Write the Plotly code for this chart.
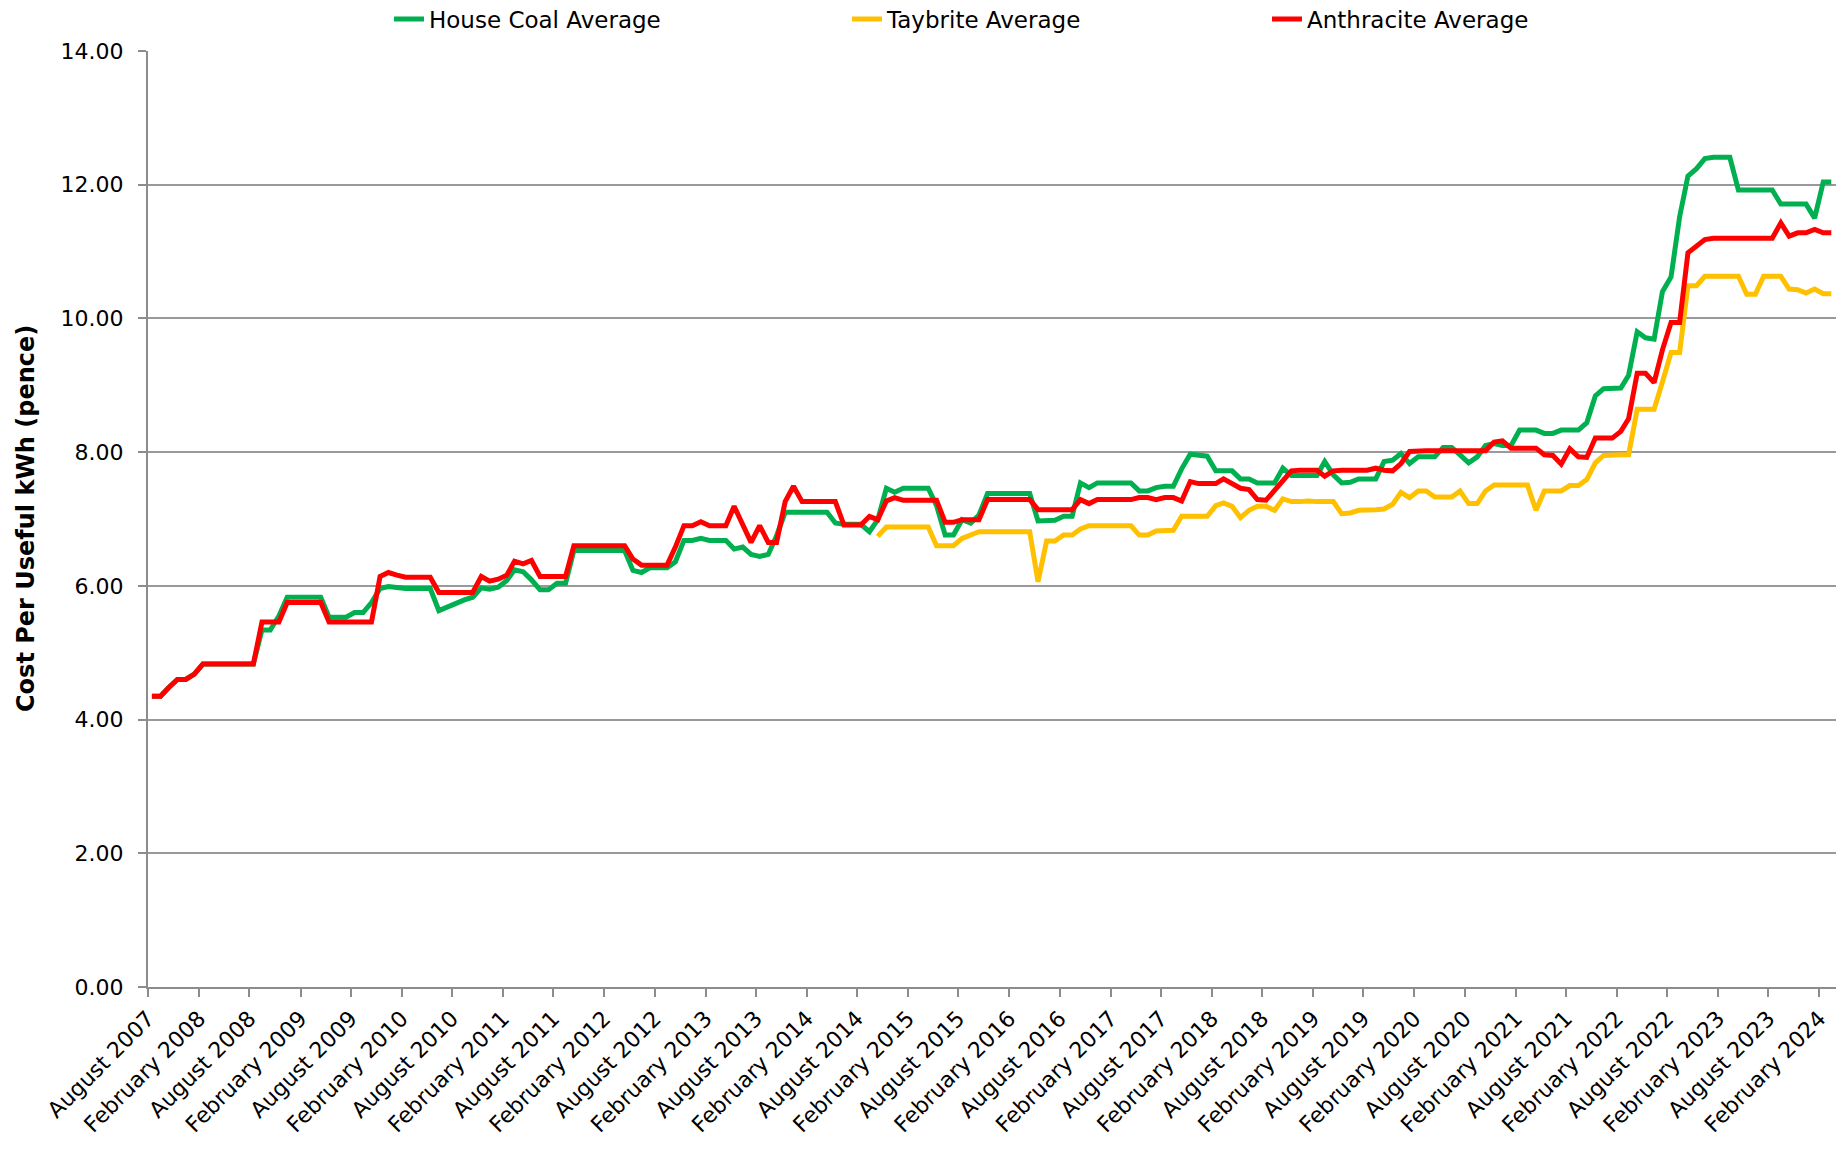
import pandas as pd
import plotly.graph_objects as go

# ---- data -------------------------------------------------------------
first_month = "2007-08-01"
n_months = 200

house_coal = [
    4.35, 4.35, 4.48, 4.60, 4.60, 4.68, 4.83, 4.83, 4.83, 4.83,
    4.83, 4.83, 4.83, 5.34, 5.34, 5.55, 5.83, 5.83, 5.83, 5.83,
    5.83, 5.53, 5.53, 5.53, 5.60, 5.60, 5.75, 5.96, 5.99, 5.97,
    5.96, 5.96, 5.96, 5.96, 5.63, 5.68, 5.75, 5.79, 5.83, 5.97,
    5.95, 5.98, 6.08, 6.24, 6.21, 6.09, 5.94, 5.94, 6.04, 6.04,
    6.53, 6.53, 6.53, 6.53, 6.53, 6.53, 6.53, 6.23, 6.20, 6.27,
    6.27, 6.27, 6.36, 6.68, 6.68, 6.71, 6.68, 6.68, 6.68, 6.55,
    6.58, 6.47, 6.44, 6.47, 6.75, 7.10, 7.10, 7.10, 7.10, 7.10,
    7.10, 6.94, 6.92, 6.92, 6.92, 6.81, 6.99, 7.46, 7.40, 7.46,
    7.46, 7.46, 7.46, 7.20, 6.76, 6.76, 6.99, 6.94, 7.06, 7.38,
    7.38, 7.38, 7.38, 7.38, 7.38, 6.97, 6.97, 6.98, 7.04, 7.04,
    7.54, 7.47, 7.54, 7.54, 7.54, 7.54, 7.54, 7.42, 7.42, 7.47,
    7.49, 7.49, 7.75, 7.97, 7.95, 7.94, 7.72, 7.72, 7.72, 7.60,
    7.60, 7.54, 7.54, 7.54, 7.76, 7.65, 7.65, 7.65, 7.65, 7.86,
    7.66, 7.54, 7.55, 7.60, 7.60, 7.60, 7.86, 7.88, 7.98, 7.83,
    7.93, 7.93, 7.93, 8.07, 8.07, 7.96, 7.84, 7.93, 8.10, 8.13,
    8.10, 8.10, 8.33, 8.33, 8.33, 8.28, 8.28, 8.33, 8.33, 8.33,
    8.44, 8.84, 8.95, 8.96, 8.96, 9.15, 9.80, 9.71, 9.69, 10.40,
    10.62, 11.52, 12.13, 12.24, 12.39, 12.41, 12.41, 12.41, 11.92, 11.92,
    11.92, 11.92, 11.92, 11.71, 11.71, 11.71, 11.71, 11.50, 12.04, 12.04,
]

taybrite = [None] * 86 + [
    6.74, 6.88, 6.88, 6.88,
    6.88, 6.88, 6.88, 6.60, 6.60, 6.60, 6.71, 6.77, 6.81, 6.81,
    6.81, 6.81, 6.81, 6.81, 6.81, 6.06, 6.67, 6.67, 6.76, 6.76,
    6.85, 6.90, 6.90, 6.90, 6.90, 6.90, 6.90, 6.76, 6.76, 6.82,
    6.83, 6.83, 7.04, 7.04, 7.04, 7.04, 7.20, 7.24, 7.19, 7.02,
    7.13, 7.19, 7.19, 7.13, 7.30, 7.26, 7.26, 7.27, 7.26, 7.26,
    7.26, 7.08, 7.09, 7.13, 7.13, 7.14, 7.15, 7.22, 7.40, 7.32,
    7.42, 7.42, 7.33, 7.33, 7.33, 7.42, 7.23, 7.23, 7.42, 7.51,
    7.51, 7.51, 7.51, 7.51, 7.13, 7.42, 7.42, 7.42, 7.50, 7.50,
    7.59, 7.84, 7.95, 7.96, 7.96, 7.96, 8.64, 8.64, 8.64, 9.05,
    9.49, 9.49, 10.49, 10.49, 10.63, 10.63, 10.63, 10.63, 10.63, 10.36,
    10.36, 10.63, 10.63, 10.63, 10.44, 10.43, 10.38, 10.44, 10.37, 10.37,
]

anthracite = [
    4.35, 4.35, 4.48, 4.60, 4.60, 4.68, 4.83, 4.83, 4.83, 4.83,
    4.83, 4.83, 4.83, 5.46, 5.46, 5.46, 5.75, 5.75, 5.75, 5.75,
    5.75, 5.46, 5.46, 5.46, 5.46, 5.46, 5.46, 6.14, 6.20, 6.16,
    6.13, 6.13, 6.13, 6.13, 5.90, 5.90, 5.90, 5.90, 5.90, 6.14,
    6.07, 6.10, 6.16, 6.37, 6.33, 6.38, 6.14, 6.14, 6.14, 6.14,
    6.60, 6.60, 6.60, 6.60, 6.60, 6.60, 6.60, 6.40, 6.31, 6.31,
    6.31, 6.31, 6.58, 6.90, 6.90, 6.96, 6.90, 6.90, 6.90, 7.19,
    6.93, 6.65, 6.90, 6.65, 6.65, 7.26, 7.49, 7.26, 7.26, 7.26,
    7.26, 7.26, 6.91, 6.91, 6.91, 7.04, 6.99, 7.27, 7.32, 7.28,
    7.28, 7.28, 7.28, 7.28, 6.95, 6.95, 6.99, 6.99, 6.99, 7.29,
    7.29, 7.29, 7.29, 7.29, 7.29, 7.14, 7.14, 7.14, 7.14, 7.14,
    7.29, 7.23, 7.29, 7.29, 7.29, 7.29, 7.29, 7.32, 7.32, 7.29,
    7.32, 7.32, 7.27, 7.56, 7.53, 7.53, 7.53, 7.60, 7.53, 7.46,
    7.44, 7.29, 7.28, 7.43, 7.55, 7.72, 7.73, 7.73, 7.73, 7.64,
    7.72, 7.73, 7.73, 7.73, 7.73, 7.76, 7.73, 7.72, 7.83, 8.01,
    8.02, 8.02, 8.02, 8.02, 8.02, 8.02, 8.02, 8.02, 8.02, 8.15,
    8.17, 8.06, 8.06, 8.06, 8.06, 7.96, 7.95, 7.82, 8.05, 7.93,
    7.92, 8.21, 8.21, 8.21, 8.31, 8.50, 9.18, 9.18, 9.04, 9.53,
    9.94, 9.94, 10.98, 11.08, 11.18, 11.20, 11.20, 11.20, 11.20, 11.20,
    11.20, 11.20, 11.20, 11.43, 11.23, 11.28, 11.28, 11.33, 11.28, 11.28,
]

tick_dates = [
    "2007-08-01", "2008-02-01", "2008-08-01", "2009-02-01", "2009-08-01",
    "2010-02-01", "2010-08-01", "2011-02-01", "2011-08-01", "2012-02-01",
    "2012-08-01", "2013-02-01", "2013-08-01", "2014-02-01", "2014-08-01",
    "2015-02-01", "2015-08-01", "2016-02-01", "2016-08-01", "2017-02-01",
    "2017-08-01", "2018-02-01", "2018-08-01", "2019-02-01", "2019-08-01",
    "2020-02-01", "2020-08-01", "2021-02-01", "2021-08-01", "2022-02-01",
    "2022-08-01", "2023-02-01", "2023-08-01", "2024-02-01",
]
tick_labels = [
    "August 2007", "February 2008", "August 2008", "February 2009", "August 2009",
    "February 2010", "August 2010", "February 2011", "August 2011", "February 2012",
    "August 2012", "February 2013", "August 2013", "February 2014", "August 2014",
    "February 2015", "August 2015", "February 2016", "August 2016", "February 2017",
    "August 2017", "February 2018", "August 2018", "February 2019", "August 2019",
    "February 2020", "August 2020", "February 2021", "August 2021", "February 2022",
    "August 2022", "February 2023", "August 2023", "February 2024",
]

series_names = ["House Coal Average", "Taybrite Average", "Anthracite Average"]
series_colors = ["#00B050", "#FFC000", "#FF0000"]

# monthly observations, plotted mid-month
months = pd.date_range(first_month, periods=n_months, freq="MS") + pd.Timedelta(days=14)

# ---- figure -----------------------------------------------------------
W, H = 1846, 1156
ML, MR, MT, MB = 148, 10, 51, 169
FONT = "DejaVu Sans, Verdana, sans-serif"

fig = go.Figure()
legend_ids = ["legend", "legend2", "legend3"]
for name, vals, col, lg in zip(series_names, [house_coal, taybrite, anthracite],
                               series_colors, legend_ids):
    fig.add_trace(go.Scatter(
        x=months, y=vals, name=name, mode="lines",
        line=dict(color=col, width=5), connectgaps=False,
        legend=lg, showlegend=True, hoverinfo="x+y+name",
    ))

pw = W - ML - MR
leg_text_px = [431, 889, 1309]
leg_common = dict(orientation="h", yanchor="middle", xanchor="left",
                  yref="container", y=1 - 19 / H,
                  font=dict(family=FONT, size=23, color="black"),
                  bgcolor="rgba(0,0,0,0)", borderwidth=0, itemwidth=30,
                  visible=True)
legends = {}
for lg, px in zip(legend_ids, leg_text_px):
    legends[lg] = dict(leg_common, x=(px - 42 - ML) / pw)

fig.update_layout(
    width=W, height=H,
    showlegend=True,
    margin=dict(l=ML, r=MR, t=MT, b=MB, pad=0, autoexpand=False),
    paper_bgcolor="white", plot_bgcolor="white",
    font=dict(family=FONT, size=22, color="black"),
    **legends,
    xaxis=dict(
        type="date",
        range=["2007-08-01", "2024-04-01"],
        tickmode="array", tickvals=tick_dates, ticktext=tick_labels,
        tickangle=-45,
        tickfont=dict(family=FONT, size=22, color="black"),
        showgrid=False, zeroline=False,
        showline=True, linecolor="#8c8c8c", linewidth=2,
        ticks="outside", ticklen=8, tickcolor="#8c8c8c", tickwidth=2,
    ),
    yaxis=dict(
        range=[0, 14], dtick=2, tick0=0, tickformat=".2f",
        tickfont=dict(family=FONT, size=22, color="black"),
        showgrid=True, gridcolor="#999999", gridwidth=2,
        zeroline=False,
        showline=True, linecolor="#8c8c8c", linewidth=2,
        ticks="outside", ticklen=8, tickcolor="#8c8c8c", tickwidth=2,
        ticklabelstandoff=10,
    ),
    annotations=[dict(
        text="<b>Cost Per Useful kWh (pence)</b>",
        xref="paper", yref="paper",
        x=(26 - ML) / pw, y=0.5, xanchor="center", yanchor="middle",
        textangle=-90, showarrow=False,
        font=dict(family=FONT, size=24, color="black"),
    )],
)

fig.write_html("out.html", config={"displayModeBar": False},
               post_script="document.body.style.margin='0';")
